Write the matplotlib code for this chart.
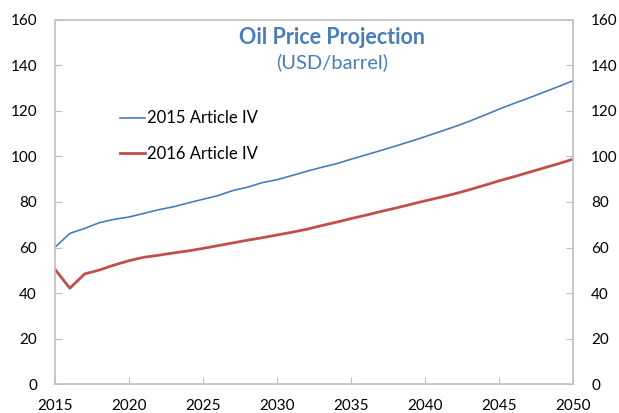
import matplotlib
matplotlib.use('Agg')
import matplotlib.pyplot as plt

plt.rcParams['font.family'] = ['Lato', 'DejaVu Sans']

years = list(range(2015, 2051))

# oil price path, USD per barrel
art_iv_2015 = [60.1, 66.2, 68.4, 70.9, 72.4, 73.4, 75.0, 76.6, 77.9, 79.6,
               81.2, 82.8, 85.0, 86.5, 88.5, 89.8, 91.6, 93.5, 95.2, 96.8,
               98.8, 100.7, 102.6, 104.6, 106.6, 108.7, 110.9, 113.1, 115.5, 118.1,
               120.8, 123.3, 125.7, 128.2, 130.7, 133.3]
art_iv_2016 = [50.4, 42.1, 48.4, 50.1, 52.3, 54.2, 55.7, 56.6, 57.6, 58.5,
               59.6, 60.8, 62.0, 63.2, 64.3, 65.5, 66.7, 68.0, 69.6, 71.1,
               72.7, 74.2, 75.8, 77.3, 78.9, 80.5, 82.0, 83.6, 85.4, 87.3,
               89.3, 91.1, 93.0, 94.9, 96.8, 98.8]

labels = ['2015 Article IV', '2016 Article IV']
xticks = list(range(2015, 2051, 5))
yticks = list(range(0, 161, 20))

blue = '#4A7EBB'
red = '#C0504D'
grey = '#BFBFBF'

fig = plt.figure(figsize=(6.19, 4.13), dpi=100)
ax = fig.add_axes([0.0889, 0.0702, 0.8368, 0.8814])

ax.plot(years, art_iv_2015, color=blue, lw=1.2, label=labels[0])
ax.plot(years, art_iv_2016, color=red, lw=2.0, label=labels[1])

ax.set_xlim(2015, 2050)
ax.set_ylim(0, 160)
ax.set_xticks(xticks)
ax.set_yticks(yticks)

for s in ax.spines.values():
    s.set_color(grey)
    s.set_linewidth(1.2)

ax.tick_params(axis='y', direction='in', length=5, color=grey, left=True, right=True,
               labelleft=True, labelright=True, labelsize=11, pad=13)
ax.tick_params(axis='x', direction='in', length=5, color=grey, labelsize=11, pad=11)

ax.text(0.535, 0.953, 'Oil Price Projection', transform=ax.transAxes,
        ha='center', va='center', fontsize=15.5, fontweight='bold', color=blue)
ax.text(0.535, 0.884, '(USD/barrel)', transform=ax.transAxes,
        ha='center', va='center', fontsize=14.5, color=blue)

ax.legend(loc='upper left', bbox_to_anchor=(0.113, 0.77), frameon=False,
          fontsize=12, handlelength=1.5, handletextpad=0.1, labelspacing=1.15,
          borderaxespad=0)

fig.savefig('out.png', dpi=100)
